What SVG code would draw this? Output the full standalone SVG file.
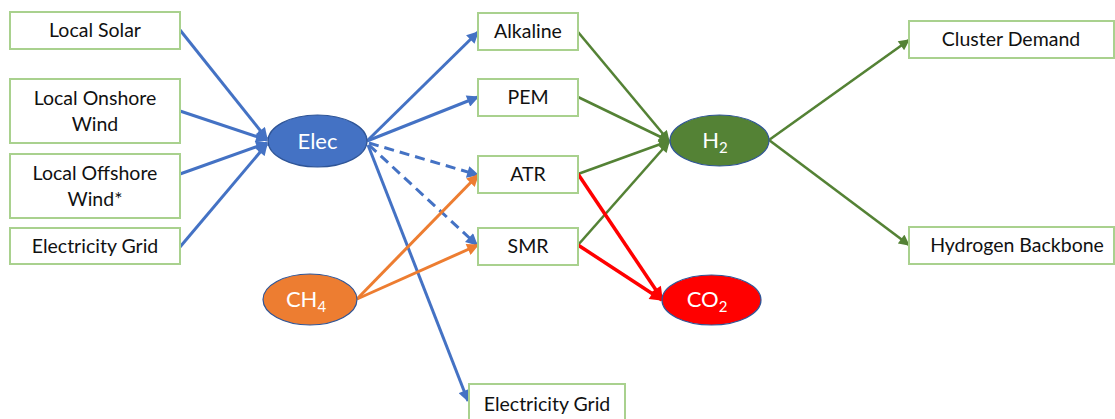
<svg xmlns="http://www.w3.org/2000/svg" width="1115" height="419" viewBox="0 0 1115 419">
<style>
.box{fill:#fff;stroke:#A9D18E;stroke-width:2}
.t{font-family:Lato,"Open Sans","Liberation Sans",sans-serif;font-size:19.5px;fill:#111;text-anchor:middle}
.et{font-family:Lato,"Open Sans","Liberation Sans",sans-serif;font-size:22px;fill:#fff;text-anchor:middle}
.sub{font-size:15px}
.ell{stroke:#2F5597;stroke-width:1.2}
.b{stroke:#4472C4;stroke-width:3;fill:none}
.g{stroke:#548235;stroke-width:2.6;fill:none}
.o{stroke:#ED7D31;stroke-width:3;fill:none}
.r{stroke:#FF0000;stroke-width:3.5;fill:none}
.d{stroke-dasharray:10 6}
</style>
<defs>
<marker id="mb" viewBox="0 0 10 10" refX="9" refY="5" markerWidth="13" markerHeight="12" markerUnits="userSpaceOnUse" orient="auto"><path d="M0,0 L10,5 L0,10 Z" fill="#4472C4"/></marker>
<marker id="mg" viewBox="0 0 10 10" refX="9" refY="5" markerWidth="12" markerHeight="11" markerUnits="userSpaceOnUse" orient="auto"><path d="M0,0 L10,5 L0,10 Z" fill="#548235"/></marker>
<marker id="mo" viewBox="0 0 10 10" refX="9" refY="5" markerWidth="13" markerHeight="12" markerUnits="userSpaceOnUse" orient="auto"><path d="M0,0 L10,5 L0,10 Z" fill="#ED7D31"/></marker>
<marker id="mr" viewBox="0 0 10 10" refX="9" refY="5" markerWidth="14" markerHeight="13" markerUnits="userSpaceOnUse" orient="auto"><path d="M0,0 L10,5 L0,10 Z" fill="#FF0000"/></marker>
</defs>
<g id="connectors">
<line class="b" x1="180" y1="30" x2="267" y2="139" marker-end="url(#mb)"/>
<line class="b" x1="180" y1="111" x2="267" y2="140" marker-end="url(#mb)"/>
<line class="b" x1="180" y1="174" x2="267" y2="143" marker-end="url(#mb)"/>
<line class="b" x1="180" y1="247" x2="267" y2="144" marker-end="url(#mb)"/>
<line class="b" x1="367" y1="141" x2="478" y2="32" marker-end="url(#mb)"/>
<line class="b" x1="367" y1="141" x2="478" y2="97" marker-end="url(#mb)"/>
<line class="b d" x1="369" y1="143" x2="478" y2="175" marker-end="url(#mb)"/>
<line class="b d" x1="369" y1="145" x2="477" y2="245" marker-end="url(#mb)"/>
<line class="b" x1="368" y1="145" x2="468" y2="401" marker-end="url(#mb)"/>
<line class="o" x1="357" y1="299" x2="478" y2="175" marker-end="url(#mo)"/>
<line class="o" x1="357" y1="299" x2="478" y2="245" marker-end="url(#mo)"/>
<line class="g" x1="578" y1="32" x2="669" y2="141" marker-end="url(#mg)"/>
<line class="g" x1="578" y1="97" x2="669" y2="141" marker-end="url(#mg)"/>
<line class="g" x1="578" y1="174" x2="669" y2="141" marker-end="url(#mg)"/>
<line class="g" x1="578" y1="245" x2="669" y2="142" marker-end="url(#mg)"/>
<line class="r" x1="578" y1="174" x2="662" y2="299" marker-end="url(#mr)"/>
<line class="r" x1="578" y1="245" x2="662" y2="300" marker-end="url(#mr)"/>
<line class="g" x1="769" y1="140" x2="909" y2="40" marker-end="url(#mg)"/>
<line class="g" x1="769" y1="140" x2="909" y2="245" marker-end="url(#mg)"/>
</g>
<g id="local-solar"><rect class="box" x="10" y="12" width="170" height="37"/><text class="t" x="95" y="37">Local Solar</text></g>
<g id="local-onshore"><rect class="box" x="10" y="79" width="170" height="64"/><text class="t" x="95" y="105">Local Onshore</text><text class="t" x="95" y="131">Wind</text></g>
<g id="local-offshore"><rect class="box" x="10" y="154" width="170" height="64"/><text class="t" x="95" y="180">Local Offshore</text><text class="t" x="95" y="206">Wind*</text></g>
<g id="grid-in"><rect class="box" x="10" y="228" width="170" height="36"/><text class="t" x="95" y="253">Electricity Grid</text></g>
<g id="elec"><ellipse class="ell" cx="317.5" cy="141" rx="49.5" ry="26" fill="#4472C4"/><text class="et" x="317.5" y="149">Elec</text></g>
<g id="ch4"><ellipse class="ell" cx="310" cy="299.5" rx="47" ry="25.5" fill="#ED7D31"/><text class="et" x="306" y="307">CH<tspan class="sub" dy="5">4</tspan></text></g>
<g id="alkaline"><rect class="box" x="478" y="13" width="100" height="37"/><text class="t" x="528" y="38">Alkaline</text></g>
<g id="pem"><rect class="box" x="478" y="79" width="100" height="37"/><text class="t" x="528" y="104">PEM</text></g>
<g id="atr"><rect class="box" x="478" y="156" width="100" height="37"/><text class="t" x="528" y="181">ATR</text></g>
<g id="smr"><rect class="box" x="478" y="228" width="100" height="37"/><text class="t" x="528" y="253">SMR</text></g>
<g id="grid-out"><rect class="box" x="469" y="384" width="156" height="40"/><text class="t" x="547" y="411">Electricity Grid</text></g>
<g id="h2"><ellipse class="ell" cx="719.5" cy="140.5" rx="49.5" ry="25.5" fill="#548235"/><text class="et" x="715" y="148">H<tspan class="sub" dy="5">2</tspan></text></g>
<g id="co2"><ellipse class="ell" cx="711.5" cy="300" rx="49.5" ry="25" fill="#FF0000"/><text class="et" x="707" y="307">CO<tspan class="sub" dy="5">2</tspan></text></g>
<g id="cluster"><rect class="box" x="909" y="21" width="205" height="37"/><text class="t" x="1011" y="46">Cluster Demand</text></g>
<g id="backbone"><rect class="box" x="909" y="227" width="205" height="37"/><text class="t" x="1017" y="252">Hydrogen Backbone</text></g>
</svg>
